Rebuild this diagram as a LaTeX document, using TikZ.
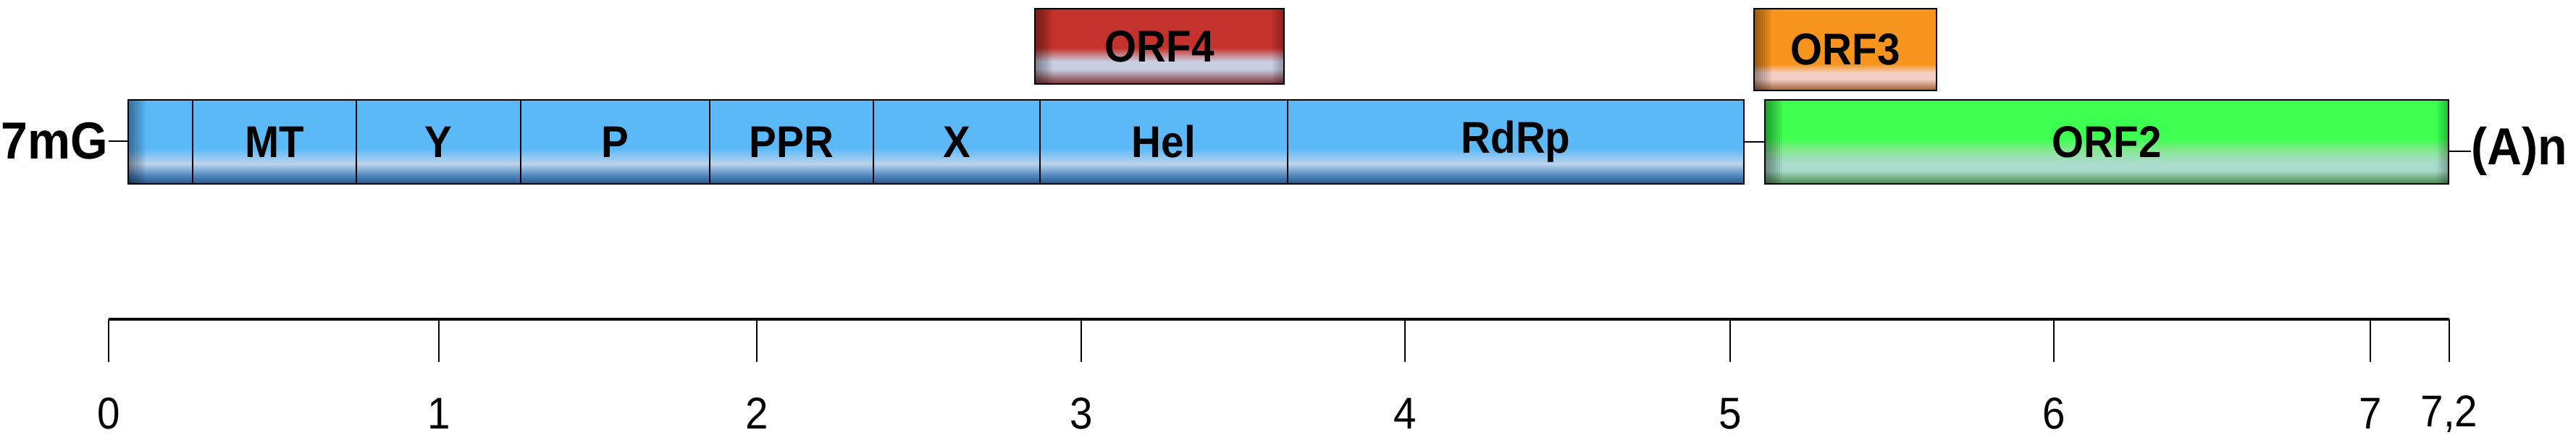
\documentclass[tikz,border=0pt]{standalone}
\usepackage{fontspec}
\setmainfont{Liberation Sans}[FakeStretch=0.92]
\usetikzlibrary{positioning}

\definecolor{barblue}{HTML}{5CB9F8}
\definecolor{barpale}{HTML}{BBD3EC}
\definecolor{barmid}{HTML}{4D86BF}
\definecolor{bardark}{HTML}{2A5783}
\definecolor{orffourred}{HTML}{C3322C}
\definecolor{orffourpale}{HTML}{C9CFE2}
\definecolor{orffourdark}{HTML}{7B2F2F}
\definecolor{orfthreeorange}{HTML}{F7941E}
\definecolor{orfthreepale}{HTML}{F5CFC5}
\definecolor{orfthreedark}{HTML}{9C5B2C}
\definecolor{orftwogreen}{HTML}{3CFF50}
\definecolor{orftwolight}{HTML}{7EEA8A}
\definecolor{orftwopale}{HTML}{A9DCCB}
\definecolor{orftwodark}{HTML}{4A8A4E}

\pgfdeclareverticalshading{bluebar}{100bp}{color(0bp)=(bardark); color(25bp)=(bardark); color(30bp)=(barmid); color(37bp)=(barpale); color(46bp)=(barblue); color(100bp)=(barblue)}
\pgfdeclareverticalshading{redbar}{100bp}{color(0bp)=(orffourdark); color(25bp)=(orffourdark); color(35bp)=(orffourpale); color(40bp)=(orffourpale); color(49bp)=(orffourred); color(100bp)=(orffourred)}
\pgfdeclareverticalshading{orangebar}{100bp}{color(0bp)=(orfthreedark); color(25bp)=(orfthreedark); color(32bp)=(orfthreepale); color(36bp)=(orfthreepale); color(41bp)=(orfthreeorange); color(100bp)=(orfthreeorange)}
\pgfdeclareverticalshading{greenbar}{100bp}{color(0bp)=(orftwodark); color(25bp)=(orftwodark); color(33bp)=(orftwopale); color(38bp)=(orftwopale); color(46bp)=(orftwolight); color(52bp)=(orftwogreen); color(100bp)=(orftwogreen)}

\tikzstyle{seg} = [rectangle, draw=black, line width=0.7pt, inner sep=0pt, outer sep=0pt, minimum height=1.16cm, shade, shading=bluebar, font=\fontsize{17.5}{20}\selectfont\bfseries]
\tikzstyle{leftedge} = [path picture={\foreach \k in {1,...,8}
	\fill[black, fill opacity=0.055] (path picture bounding box.south west) rectangle ([xshift=\k*0.03cm]path picture bounding box.north west);}]
\tikzstyle{bothedges} = [path picture={\foreach \k in {1,...,8}
	{\fill[black, fill opacity=0.055] (path picture bounding box.south west) rectangle ([xshift=\k*0.03cm]path picture bounding box.north west);
	\fill[black, fill opacity=0.035] ([xshift=-\k*0.02cm]path picture bounding box.south east) rectangle (path picture bounding box.north east);}}]
\tikzstyle{orftwo} = [seg, shading=greenbar, bothedges]
\tikzstyle{orffour} = [seg, shading=redbar, bothedges]
\tikzstyle{orfthree} = [seg, shading=orangebar, leftedge]
\tikzstyle{endlabel} = [inner sep=0pt, font=\fontsize{20.5}{24}\selectfont\bfseries]
\tikzstyle{scalelabel} = [inner sep=0pt, font=\fontsize{17.5}{20}\selectfont]
\tikzstyle{link} = [line width=0.6pt]
\tikzstyle{axis} = [line width=1pt]
\tikzstyle{tick} = [line width=0.6pt]

\begin{document}
\begin{tikzpicture}
	\useasboundingbox (0,0) rectangle (35.57,6.11);
	\node (cap) [seg, leftedge, minimum width=0.89cm] at (2.215,4.15) {};
	\node (mt) [seg, minimum width=2.26cm, right=0pt of cap] {MT};
	\node (ydom) [seg, minimum width=2.27cm, right=0pt of mt] {Y};
	\node (pdom) [seg, minimum width=2.61cm, right=0pt of ydom] {P};
	\node (ppr) [seg, minimum width=2.26cm, right=0pt of pdom] {PPR};
	\node (xdom) [seg, minimum width=2.30cm, right=0pt of ppr] {X};
	\node (hel) [seg, minimum width=3.42cm, right=0pt of xdom] {Hel};
	\node (rdrp) [seg, minimum width=6.30cm, right=0pt of hel] {RdRp};
	\node (orf2) [orftwo, minimum width=9.44cm] at (29.09,4.15) {ORF2};
	\node (orf4) [orffour, minimum width=3.44cm, minimum height=1.04cm] at (16.01,5.47) {ORF4};
	\node (orf3) [orfthree, minimum width=2.52cm, minimum height=1.13cm] at (25.48,5.425) {ORF3};
	\node (capend) [endlabel, anchor=east] at (1.50,4.16) {7mG};
	\node (polya) [endlabel, anchor=west] at (34.12,4.02) {(A)n};
	\draw [link] (capend.east) -- (capend.east -| cap.west);
	\draw [link] (rdrp) -- (orf2);
	\draw [link] (polya.west -| orf2.east) -- (polya.west);

	\draw [axis] (1.50,1.70) -- (33.82,1.70);
	\foreach \x/\lab [count=\i] in {1.50/0, 6.06/1, 10.45/2, 14.93/3, 19.40/4, 23.89/5, 28.36/6, 32.73/7, 33.82/{7,2}}
	{
		\draw [tick] (\x,1.70) -- (\x,1.11);
		\node (kb\i) [scalelabel] at (\x,0.395) {\lab};
	}
\end{tikzpicture}
\end{document}
